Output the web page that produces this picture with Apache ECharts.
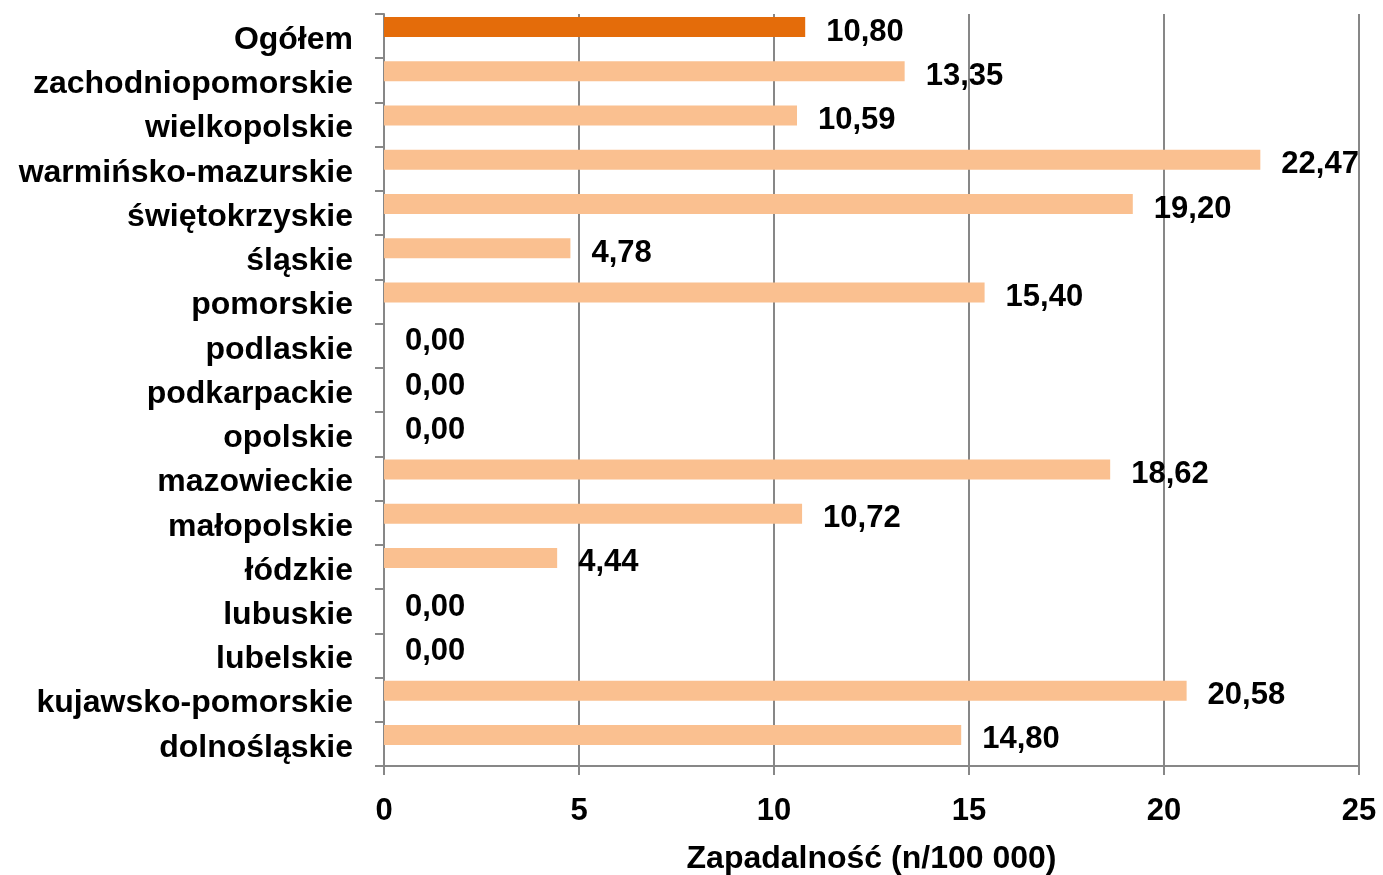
<!DOCTYPE html>
<html>
<head>
<meta charset="utf-8">
<script src="https://cdn.jsdelivr.net/npm/echarts@6/dist/echarts.min.js"></script>
<style>
  html, body { margin: 0; padding: 0; background: #fff; }
  #chart { width: 1383px; height: 875px; }
</style>
</head>
<body>
<div id="chart"></div>
<script>
// kategorie od góry do dołu
const regions = [
  "Ogółem", "zachodniopomorskie", "wielkopolskie", "warmińsko-mazurskie",
  "świętokrzyskie", "śląskie", "pomorskie", "podlaskie", "podkarpackie",
  "opolskie", "mazowieckie", "małopolskie", "łódzkie", "lubuskie",
  "lubelskie", "kujawsko-pomorskie", "dolnośląskie"
];
const incidence = [
  10.80, 13.35, 10.59, 22.47, 19.20, 4.78, 15.40, 0.00, 0.00,
  0.00, 18.62, 10.72, 4.44, 0.00, 0.00, 20.58, 14.80
];
const xTicks = [0, 5, 10, 15, 20, 25];

const totalColor = "#E46C0A";
const regionColor = "#FAC090";
const gridColor = "#878787";
const font = "'Liberation Sans', Arial, sans-serif";

const chart = echarts.init(document.getElementById("chart"));

chart.setOption({
  animation: false,
  grid: { left: 384, right: 24, top: 14, bottom: 109, containLabel: false, outerBoundsMode: "none" },
  xAxis: {
    type: "value",
    min: xTicks[0],
    max: xTicks[xTicks.length - 1],
    interval: 5,
    name: "Zapadalność (n/100 000)",
    nameLocation: "middle",
    nameGap: 77,
    nameTextStyle: { color: "#000", fontSize: 32, fontWeight: "bold", fontFamily: font },
    axisLine: { show: true, lineStyle: { color: gridColor, width: 2 } },
    axisTick: { show: true, length: 9, lineStyle: { color: gridColor, width: 2 } },
    axisLabel: { color: "#000", fontSize: 31, fontWeight: "bold", fontFamily: font, margin: 30 },
    splitLine: { show: true, lineStyle: { color: gridColor, width: 2 } }
  },
  yAxis: {
    type: "category",
    data: regions,
    inverse: true,
    axisLine: { show: true, lineStyle: { color: gridColor, width: 2 } },
    axisTick: { show: true, length: 9, lineStyle: { color: gridColor, width: 2 } },
    axisLabel: {
      margin: 31,
      formatter: v => "{c|" + v + "}",
      rich: {
        c: {
          color: "#000", fontSize: 32, fontWeight: "bold", fontFamily: font,
          padding: [8, 0, 0, 0]
        }
      }
    },
    splitLine: { show: false }
  },
  series: [
    {
      type: "bar",
      barWidth: 20,
      barGap: 0,
      data: incidence.map((v, i) => ({
        value: v,
        itemStyle: { color: i === 0 ? totalColor : regionColor }
      })),
      label: {
        show: true,
        position: "right",
        distance: 21,
        offset: [0, 5],
        color: "#000",
        fontSize: 31,
        fontWeight: "bold",
        fontFamily: font,
        formatter: p => p.value.toFixed(2).replace(".", ",")
      }
    },
    {
      type: "bar",
      barWidth: 18,
      data: [],
      silent: true
    }
  ]
});
</script>
</body>
</html>
